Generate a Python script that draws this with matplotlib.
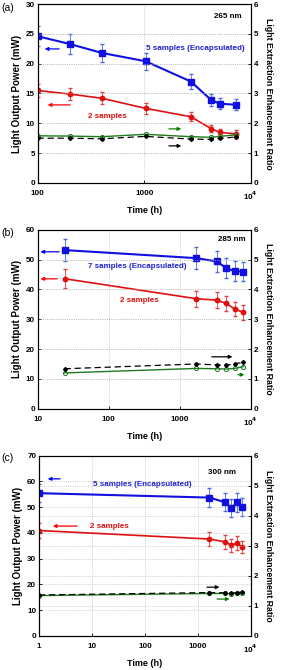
#!/usr/bin/env python3

import matplotlib
matplotlib.use('Agg')
import matplotlib.pyplot as plt
from matplotlib.ticker import FixedLocator, FixedFormatter, NullLocator

plt.rcParams['font.family'] = ['Liberation Sans', 'DejaVu Sans']
plt.rcParams['font.weight'] = 'bold'

# (a) 265 nm
time_a = [100, 200, 400, 1030, 2740, 4250, 5100, 7200]
enc_a = [24.6, 23.3, 21.8, 20.4, 17.0, 13.9, 13.3, 13.1]
enc_err_a = [1.7, 1.7, 1.5, 1.4, 1.2, 1.0, 0.9, 0.9]
bare_a = [15.5, 14.9, 14.2, 12.5, 11.1, 9.1, 8.5, 8.2]
bare_err_a = [1.1, 1.0, 1.0, 0.9, 0.8, 0.6, 0.6, 0.6]
ratio_g_a = [1.58, 1.57, 1.55, 1.63, 1.55, 1.53, 1.56, 1.61]
ratio_k_a = [1.50, 1.50, 1.48, 1.56, 1.47, 1.46, 1.49, 1.54]

# (b) 285 nm
time_b = [24, 1700, 3300, 4500, 5900, 7800]
enc_b = [53.2, 50.5, 49.4, 47.2, 46.1, 46.0]
enc_err_b = [3.6, 3.6, 3.4, 3.3, 3.3, 3.2]
bare_b = [43.6, 36.9, 36.4, 35.3, 33.5, 32.3]
bare_err_b = [3.1, 2.7, 2.6, 2.5, 2.4, 2.4]
ratio_g_b = [1.20, 1.35, 1.34, 1.33, 1.35, 1.41]
ratio_k_b = [1.34, 1.50, 1.47, 1.45, 1.51, 1.55]

# (c) 300 nm
time_c = [1, 1650, 3250, 4300, 5500, 6700]
enc_c = [55.4, 53.7, 51.9, 49.6, 51.8, 50.0]
enc_err_c = [3.5, 3.6, 3.6, 3.5, 3.6, 3.4]
bare_c = [40.9, 37.6, 36.5, 35.2, 36.1, 34.5]
bare_err_c = [3.0, 2.6, 2.6, 2.5, 2.6, 2.4]
ratio_g_c = [1.34, 1.41, 1.41, 1.40, 1.42, 1.42]
ratio_k_c = [1.36, 1.44, 1.43, 1.42, 1.44, 1.45]

panels = [
    dict(tag='(a)', nm='265 nm', enc_label='5 samples (Encapsulated)',
         t=time_a, enc=enc_a, enc_err=enc_err_a, bare=bare_a, bare_err=bare_err_a,
         rg=ratio_g_a, rk=ratio_k_a,
         xticks=[100, 1000, 10000], xlabels=['100', '1000', '10$^4$'],
         ymax=30, ystep=5),
    dict(tag='(b)', nm='285 nm', enc_label='7 samples (Encapsulated)',
         t=time_b, enc=enc_b, enc_err=enc_err_b, bare=bare_b, bare_err=bare_err_b,
         rg=ratio_g_b, rk=ratio_k_b,
         xticks=[10, 100, 1000, 10000], xlabels=['10', '100', '1000', '10$^4$'],
         ymax=60, ystep=10),
    dict(tag='(c)', nm='300 nm', enc_label='5 samples (Encapsulated)',
         t=time_c, enc=enc_c, enc_err=enc_err_c, bare=bare_c, bare_err=bare_err_c,
         rg=ratio_g_c, rk=ratio_k_c,
         xticks=[1, 10, 100, 1000, 10000], xlabels=['1', '10', '100', '1000', '10$^4$'],
         ymax=70, ystep=10),
]

# layout (figure fractions) and annotation spots (axes fractions)
boxes = [[0.132, 0.727, 0.748, 0.267],
         [0.132, 0.390, 0.748, 0.267],
         [0.137, 0.051, 0.743, 0.269]]
tag_y = [0.988, 0.652, 0.316]
arrows = [
    [((0.02, 0.749), (0.114, 0.749), 'blue'), ((0.034, 0.436), (0.166, 0.436), 'red'),
     ((0.687, 0.302), (0.603, 0.302), 'green'), ((0.687, 0.207), (0.603, 0.207), 'k')],
    [((0.0, 0.877), (0.114, 0.877), 'blue'), ((0.0, 0.726), (0.105, 0.726), 'red'),
     ((0.927, 0.29), (0.804, 0.29), 'k'), ((0.983, 0.19), (0.927, 0.19), 'green')],
    [((0.028, 0.871), (0.113, 0.871), 'blue'), ((0.052, 0.609), (0.193, 0.609), 'red'),
     ((0.865, 0.27), (0.78, 0.27), 'k'), ((0.913, 0.204), (0.828, 0.204), 'green')],
]
texts = [
    [(0.894, 0.933), (0.739, 0.749), (0.325, 0.374)],
    [(0.912, 0.944), (0.466, 0.793), (0.476, 0.603)],
    [(0.862, 0.904), (0.49, 0.837), (0.33, 0.609)],
]

fig = plt.figure(figsize=(2.85, 6.7), dpi=100)
fs = 5.8
green = '#1f7a1f'

for i, p in enumerate(panels):
    ax = fig.add_axes(boxes[i])
    ax2 = ax.twinx()
    ax.set_xscale('log')
    ax.set_xlim(p['xticks'][0], p['xticks'][-1])
    ax.set_ylim(0, p['ymax'])
    ax2.set_ylim(0, 6)

    ax.errorbar(p['t'], p['enc'], yerr=p['enc_err'], color='#1010e0', marker='s',
                ms=4, lw=1.5, elinewidth=0.6, capsize=1.5, ecolor='#4a6ae0', zorder=5)
    ax.errorbar(p['t'], p['bare'], yerr=p['bare_err'], color='#e01010', marker='o',
                ms=3.2, lw=1.2, elinewidth=0.6, capsize=1.5, ecolor='#e04040', zorder=5)
    ax2.plot(p['t'], p['rg'], color=green, marker='o', mfc='none', ms=3, lw=1.0, mew=0.7)
    ax2.plot(p['t'], p['rk'], color='k', marker='D', ms=2, lw=0.9, ls=(0, (5, 3)))

    ax.xaxis.set_major_locator(FixedLocator(p['xticks']))
    ax.xaxis.set_major_formatter(FixedFormatter(p['xlabels']))
    ax.xaxis.set_minor_locator(NullLocator())
    ax.set_yticks(range(0, p['ymax'] + 1, p['ystep']))
    ax2.set_yticks(range(0, 7))

    ax.grid(True, color='#bbbbbb', ls=':', lw=0.6)
    ax2.grid(True, axis='y', color='#bbbbbb', ls=':', lw=0.6)
    ax.set_axisbelow(True)

    for a in (ax, ax2):
        a.tick_params(direction='in', labelsize=fs, length=2.5, width=0.6, pad=2)
        for lab in a.get_xticklabels() + a.get_yticklabels():
            lab.set_fontweight('bold')
        for s in a.spines.values():
            s.set_linewidth(0.8)
    ax.tick_params(axis='x', pad=5)

    ax.set_xlabel('Time (h)', fontsize=6.5, fontweight='bold', labelpad=3)
    ax.set_ylabel('Light Output Power (mW)', fontsize=7, fontweight='bold', labelpad=3)
    ax2.set_ylabel('Light Extraction Enhancement Ratio', fontsize=6.3,
                   fontweight='bold', rotation=-90, labelpad=11)

    for head, tail, col in arrows[i]:
        shaft = '#888888' if col == 'k' else col
        ax.annotate('', xy=head, xytext=tail, xycoords='axes fraction',
                    textcoords='axes fraction',
                    arrowprops=dict(arrowstyle='-|>', color=shaft, lw=0.9,
                                    mutation_scale=5, fc=col, ec=col))

    tpos = texts[i]
    ax.text(*tpos[0], p['nm'], transform=ax.transAxes, fontsize=fs, fontweight='bold',
            ha='center', va='center')
    ax.text(*tpos[1], p['enc_label'], transform=ax.transAxes, fontsize=fs,
            fontweight='bold', color='#2020d0', ha='center', va='center')
    ax.text(*tpos[2], '2 samples', transform=ax.transAxes, fontsize=fs,
            fontweight='bold', color='#e01010', ha='center', va='center')

    fig.text(0.005, tag_y[i], p['tag'], fontsize=7.5, fontweight='normal',
             ha='left', va='center')

fig.savefig('out.png', dpi=100)
